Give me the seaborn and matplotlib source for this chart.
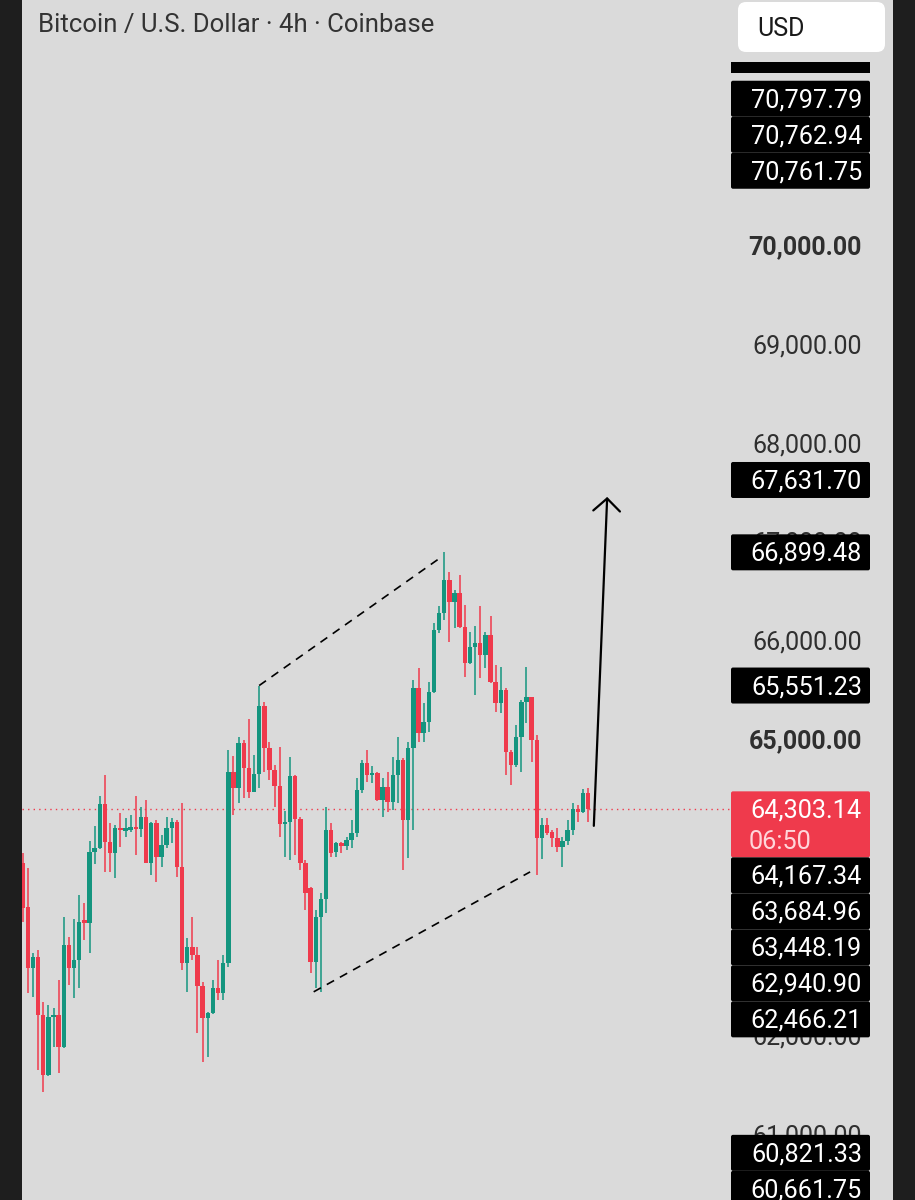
import numpy as np
import pandas as pd
import seaborn as sns
import matplotlib.pyplot as plt
from matplotlib.patches import FancyBboxPatch, Rectangle

sns.set_theme(style="white")
plt.rcParams['font.family'] = ['Roboto', 'DejaVu Sans']

# --- 4h candles (oldest -> newest) ---
opens = [63756, 63311, 62694, 62805, 62218, 61611, 62198, 62218, 61894, 62927,
         62694, 62775, 63180, 63149, 63868, 63908, 64354, 63969, 63858, 64111,
         64080, 64090, 64121, 64100, 64222, 63756, 64161, 63817, 63939, 64111,
         64171, 63716, 62744, 62906, 62825, 62512, 62188, 62238, 62491, 62441,
         62744, 64677, 64515, 64971, 64718, 64475, 64657, 65345, 64920, 64698,
         64536, 64151, 64171, 64637, 64202, 63756, 63503, 62755, 63210, 63392,
         64090, 63868, 63959, 63928, 63989, 64060, 64495, 64768, 64647, 64667,
         64394, 64526, 64374, 64647, 64799, 64192, 64920, 65527, 65072, 65183,
         65487, 66114, 66286, 66620, 66398, 66489, 66145, 65780, 65942, 65983,
         65861, 66064, 65588, 65376, 65507, 64880, 64748, 65032, 65386, 65436,
         65001, 64009, 64141, 64070, 64009, 63918, 63979, 64090, 64303, 64273,
         64465]
highs = [63858, 63706, 62846, 62876, 62350, 62319, 62289, 62572, 63210, 63008,
         63190, 63433, 63352, 63979, 64131, 64435, 64647, 64161, 64141, 64262,
         64212, 64242, 64435, 64323, 64394, 64171, 64192, 64040, 64222, 64212,
         64192, 64364, 62997, 63210, 62906, 62552, 62248, 62572, 62775, 62825,
         64900, 64839, 65032, 65001, 65214, 64849, 65551.23, 65386, 64981, 64748,
         64930, 64283, 64829, 64647, 64222, 63787, 63513, 63281, 63453, 64323,
         64161, 63969, 63969, 64020, 64192, 64617, 64799, 64900, 64738, 64677,
         64617, 64677, 64829, 65032, 64819, 64981, 65608, 65730, 65376, 65588,
         66185, 66357, 66899.48, 66701, 66519, 66671, 66367, 66094, 66155, 66357,
         66094, 66256, 65760, 65740, 65527, 64900, 65153, 65406, 65740, 65436,
         65052, 64212, 64212, 64090, 64111, 64020, 64192, 64364, 64343, 64505,
         64515]
lows = [63159, 62441, 62400, 61662, 61439, 61600, 61894, 61631, 61880, 62522,
        62390, 62491, 62977, 62846, 63746, 63900, 63665, 63665, 63605, 63918,
        64020, 64070, 63837, 64020, 63750, 63635, 63564, 63716, 63908, 63959,
        63615, 62674, 62451, 62775, 62036, 61743, 61793, 62230, 62370, 62370,
        62704, 64242, 64364, 64414, 64414, 64470, 64515, 64677, 64596, 64323,
        64020, 63817, 63787, 63837, 63686, 63281, 62643, 62491, 62451, 63250,
        63817, 63817, 63858, 63888, 63908, 64020, 64465, 64576, 64566, 64380,
        64222, 64273, 64293, 64364, 63686, 63807, 64090, 64981, 64981, 65082,
        65480, 66084, 66216, 65993, 66135, 66135, 65639, 65770, 65457, 65629,
        65730, 65580, 65285, 65274, 64647, 64546, 64728, 64677, 65173, 64779,
        63635, 63797, 64040, 63918, 63868, 63716, 63939, 64040, 64171, 64263,
        64171]
closes = [63301, 62694, 62805, 62218, 61611, 62198, 62218, 61894, 62927, 62694,
          62775, 63159, 63149, 63868, 63908, 64354, 63969, 63858, 64111, 64090,
          64111, 64121, 64100, 64222, 63756, 64161, 63817, 63939, 64111, 64171,
          63716, 62744, 62906, 62825, 62512, 62188, 62238, 62491, 62441, 62744,
          64677, 64515, 64971, 64718, 64475, 64657, 65345, 64920, 64698, 64536,
          64151, 64171, 64637, 64202, 63756, 63453, 62755, 63210, 63392, 64090,
          63858, 63959, 63928, 63989, 64060, 64495, 64768, 64647, 64667, 64394,
          64526, 64374, 64647, 64799, 64192, 64920, 65527, 65072, 65183, 65487,
          66114, 66286, 66620, 66398, 66489, 66145, 65780, 65942, 65983, 65861,
          66064, 65588, 65376, 65507, 64880, 64748, 65032, 65386, 65436, 65001,
          64009, 64141, 64060, 64009, 63918, 63979, 64090, 64303, 64273, 64465,
          64303.14]

# drawings (bar index, price)
upper_line_x = [46.0, 81.2]
upper_line_y = [65551.23, 66843]
lower_line_x = [56.6, 98.7]
lower_line_y = [62451, 63665]
arrow_from = (111.1, 64131)
arrow_to = (113.7, 67460)

# price scale: grid prices still peeking out from behind the tags
grid_prices = [61000, 62000, 65000, 66000, 67000, 68000, 69000, 70000]
bold_prices = [65000, 70000]
top_tags = [70797.79, 70762.94, 70761.75]
mid_tags = [67631.70, 66899.48, 65551.23]
low_tags = [64167.34, 63684.96, 63448.19, 62940.90, 62466.21]
bottom_tags = [60821.33, 60661.75]
last_price = 64303.14
countdown = "06:50"
title = "Bitcoin / U.S. Dollar · 4h · Coinbase"

GREEN = '#14957f'
RED = '#ef3a4c'
BG = '#dadada'
DARK = '#1e1e1e'

W, H = 915, 1200
fig = plt.figure(figsize=(W / 100, H / 100), dpi=100)
fig.patch.set_facecolor(BG)

ax = fig.add_axes([22 / W, 0, (893 - 22) / W, 1])
ax.set_xlim(-0.14, 169.3)
ax.set_ylim(60344, 72490)
ax.axis('off')

df = pd.DataFrame(dict(open=opens, high=highs, low=lows, close=closes))
df['bar'] = np.arange(len(df))
col = np.where(df['close'] >= df['open'], GREEN, RED)
body_lo = df[['open', 'close']].min(axis=1)
body_h = (df['close'] - df['open']).abs().clip(lower=22)

ax.vlines(df['bar'], df['low'], df['high'], colors=col, lw=1.1, zorder=2)
ax.bar(df['bar'], body_h, bottom=body_lo, width=0.86, color=col, linewidth=0, zorder=3)

# current price dotted line
ax.axhline(last_price, xmin=0, xmax=(731 - 22) / 871, color=RED, lw=1.0,
           ls=(0, (1, 3)), zorder=1)

# channel lines
sns.lineplot(x=upper_line_x, y=upper_line_y, ax=ax, color='black', lw=1.2,
             linestyle=(0, (5, 4)), zorder=4)
sns.lineplot(x=lower_line_x, y=lower_line_y, ax=ax, color='black', lw=1.2,
             linestyle=(0, (5, 4)), zorder=4)

ax.annotate('', xy=arrow_to, xytext=arrow_from,
            arrowprops=dict(arrowstyle='->,head_length=0.75,head_width=0.8',
                            lw=1.6, color='black', shrinkA=0, shrinkB=0),
            zorder=5)

# overlay in pixel coordinates for the price scale / chrome
ov = fig.add_axes([0, 0, 1, 1])
ov.set_xlim(0, W)
ov.set_ylim(H, 0)
ov.axis('off')


def py(price):
    return H - ax.transData.transform((0, price))[1]


TAG_H = 36
TXT_DY = 1.5

for v in grid_prices:
    ov.text(862, py(v) + TXT_DY, f"{v:,.2f}", ha='right', va='center', fontsize=18,
            color='#2f2f2f', fontweight='bold' if v in bold_prices else 'normal',
            zorder=1)


def tag(yc, text, face='black', h=TAG_H):
    ov.add_patch(FancyBboxPatch((731, yc - h / 2), 139, h,
                                boxstyle='round,pad=0,rounding_size=2',
                                fc=face, ec='none', zorder=5))
    ov.text(862, yc + TXT_DY, text, ha='right', va='center', fontsize=18.2,
            color='white', zorder=6)


# upper group stacks upward
prev = None
for v in sorted(top_tags):
    yc = py(v) if prev is None else min(py(v), prev - TAG_H)
    tag(yc, f"{v:,.2f}")
    prev = yc

for v in mid_tags:
    tag(py(v), f"{v:,.2f}")

# current price tag (two lines)
yl = py(last_price)
ov.add_patch(FancyBboxPatch((731, yl - 17.5), 139, 66,
                            boxstyle='round,pad=0,rounding_size=2',
                            fc=RED, ec='none', zorder=5))
ov.text(862, yl + TXT_DY, f"{last_price:,.2f}", ha='right', va='center',
        fontsize=18.2, color='white', zorder=6)
ov.text(749, yl + 32 + TXT_DY, countdown, ha='left', va='center',
        fontsize=18.2, color='#ffd6da', zorder=6)

# lower groups stack downward
prev_bottom = yl + 48.5
for v in low_tags:
    yc = max(py(v), prev_bottom + TAG_H / 2)
    tag(yc, f"{v:,.2f}")
    prev_bottom = yc + TAG_H / 2

prev_bottom = -1e9
for v in bottom_tags:
    yc = max(py(v), prev_bottom + TAG_H / 2)
    tag(yc, f"{v:,.2f}")
    prev_bottom = yc + TAG_H / 2

# clipped tag at top of scale
ov.add_patch(Rectangle((731, 62), 139, 11, fc='black', ec='none', zorder=5))

# currency button
ov.add_patch(FancyBboxPatch((738, 2), 147, 50,
                            boxstyle='round,pad=0,rounding_size=8',
                            fc='white', ec='none', zorder=5))
ov.text(757, 27 + TXT_DY, 'USD', ha='left', va='center', fontsize=18,
        color='#1a1a1a', zorder=6)

# title
ov.text(38, 25, title, ha='left', va='center', fontsize=18.5, color='#333333',
        zorder=6)

# dark side borders
ov.add_patch(Rectangle((0, 0), 22, H, fc=DARK, ec='none', zorder=7))
ov.add_patch(Rectangle((893, 0), 22, H, fc=DARK, ec='none', zorder=7))

fig.savefig('out.png', dpi=100, facecolor=fig.get_facecolor())
